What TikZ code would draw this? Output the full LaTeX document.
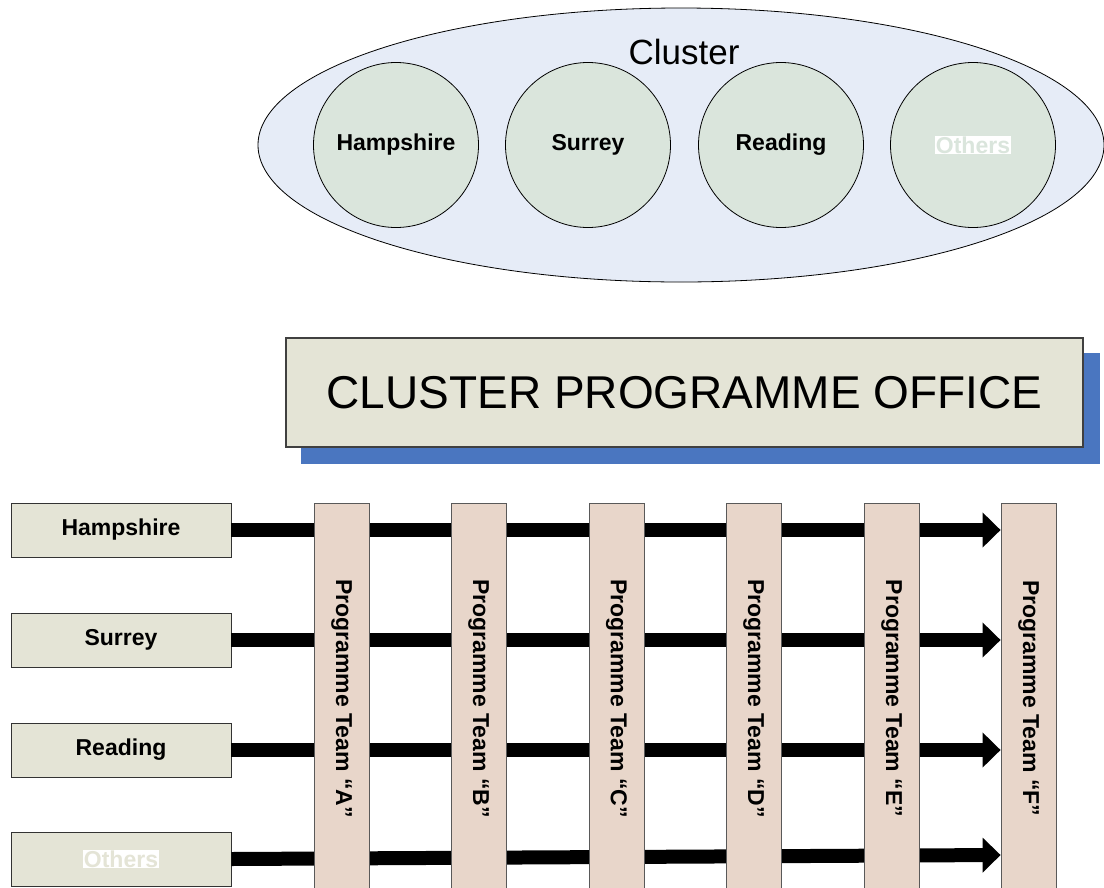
\documentclass[tikz,border=0pt]{standalone}
\usepackage{fontspec}
\setmainfont{Liberation Sans}
\definecolor{clusterfill}{RGB}{230, 236, 247}
\definecolor{trustfill}{RGB}{218, 229, 220}
\definecolor{officefill}{RGB}{228, 228, 214}
\definecolor{officeshade}{RGB}{74, 118, 192}
\definecolor{teamfill}{RGB}{232, 214, 202}
\usetikzlibrary{arrows.meta, positioning, calc, backgrounds, shapes.geometric}
\tikzset{
  % Big ellipse holding the member trusts.
  cluster/.style={
    ellipse, draw=black, line width=0.8pt,
    fill=clusterfill,
    minimum width=846pt, minimum height=274pt,
    inner sep=0pt,
  },
  % Member trust bubble.
  trust/.style={
    circle, draw=black, line width=0.8pt,
    fill=trustfill,
    minimum size=165pt, inner sep=0pt,
    font=\fontsize{23}{28}\selectfont\bfseries,
  },
  % Programme office banner.
  office/.style={
    rectangle, draw=black!75, line width=1.2pt,
    fill=officefill,
    minimum width=797pt, minimum height=109pt,
    font=\fontsize{46}{55}\selectfont,
  },
  % Site boxes on the left.
  site/.style={
    rectangle, draw=black!80, line width=0.8pt,
    fill=officefill,
    minimum width=220pt, minimum height=54pt,
    font=\fontsize{23}{28}\selectfont\bfseries,
  },
  % Vertical programme team columns (text runs top to bottom).
  team/.style={
    rectangle, draw=black!65, line width=0.8pt,
    fill=teamfill,
    minimum width=390pt, minimum height=55pt,
    rotate=-90, anchor=west,
    font=\fontsize{23}{28}\selectfont\bfseries,
  },
  % Text that is set in the fill colour on a white patch.
  hidden/.style={fill=white, inner sep=0.5pt},
  % Thick feed arrows.
  feed/.style={
    -{Triangle[length=18pt, width=34pt]},
    line width=14pt,
    draw=black,
  },
}

\begin{document}
\begin{tikzpicture}[x=1pt, y=-1pt]

  \useasboundingbox (0, 0) rectangle (1104, 887);
  \clip (0, 0) rectangle (1104, 887);

  % Cluster with its trusts.
  \node[cluster] (cluster) at (681, 145) {};
  \node[font=\fontsize{35}{42}\selectfont] (clustertitle) at (684, 52) {Cluster};
  \node[trust] (champ) at (396, 145) {Hampshire};
  \node[trust] (csurr) at (588, 145) {Surrey};
  \node[trust] (cread) at (781, 145) {Reading};
  \node[trust] (coth)  at (973, 145) {};
  \node[hidden, text=trustfill, font=\fontsize{23}{28}\selectfont\bfseries]
    (cothtxt) at (coth.center) {Others};

  % Programme office with offset shadow.
  \node[office] (office) at (684.5, 392.5) {CLUSTER PROGRAMME OFFICE};
  \begin{scope}[on background layer]
    \fill[officeshade] ([xshift=16pt, yshift=-16pt]office.south west)
      rectangle ([xshift=16pt, yshift=-16pt]office.north east);
  \end{scope}

  % Sites.
  \node[site] (hamp) at (121, 530) {Hampshire};
  \node[site] (surr) at (121, 640) {Surrey};
  \node[site] (read) at (121, 750) {Reading};
  \node[site] (oth)  at (121, 859) {};
  \node[hidden, text=officefill, font=\fontsize{23}{28}\selectfont\bfseries]
    (othtxt) at (oth.center) {Others};

  % Team F first, so the arrows can end on it.
  \node[team] (tF) at (1028.5, 503) {Programme Team “F”};

  % Feeds from each site across all teams.
  \draw[feed] (hamp.east) -- (hamp.east -| tF.south);
  \draw[feed] (surr.east) -- (surr.east -| tF.south);
  \draw[feed] (read.east) -- (read.east -| tF.south);
  \draw[feed] (oth.east) -- ($(oth.east -| tF.south) + (0, -4)$);

  % Remaining teams sit on top of the feeds.
  \node[team] (tA) at (341.5, 503) {Programme Team “A”};
  \node[team] (tB) at (478.5, 503) {Programme Team “B”};
  \node[team] (tC) at (616.5, 503) {Programme Team “C”};
  \node[team] (tD) at (753.5, 503) {Programme Team “D”};
  \node[team] (tE) at (891.5, 503) {Programme Team “E”};

\end{tikzpicture}
\end{document}
